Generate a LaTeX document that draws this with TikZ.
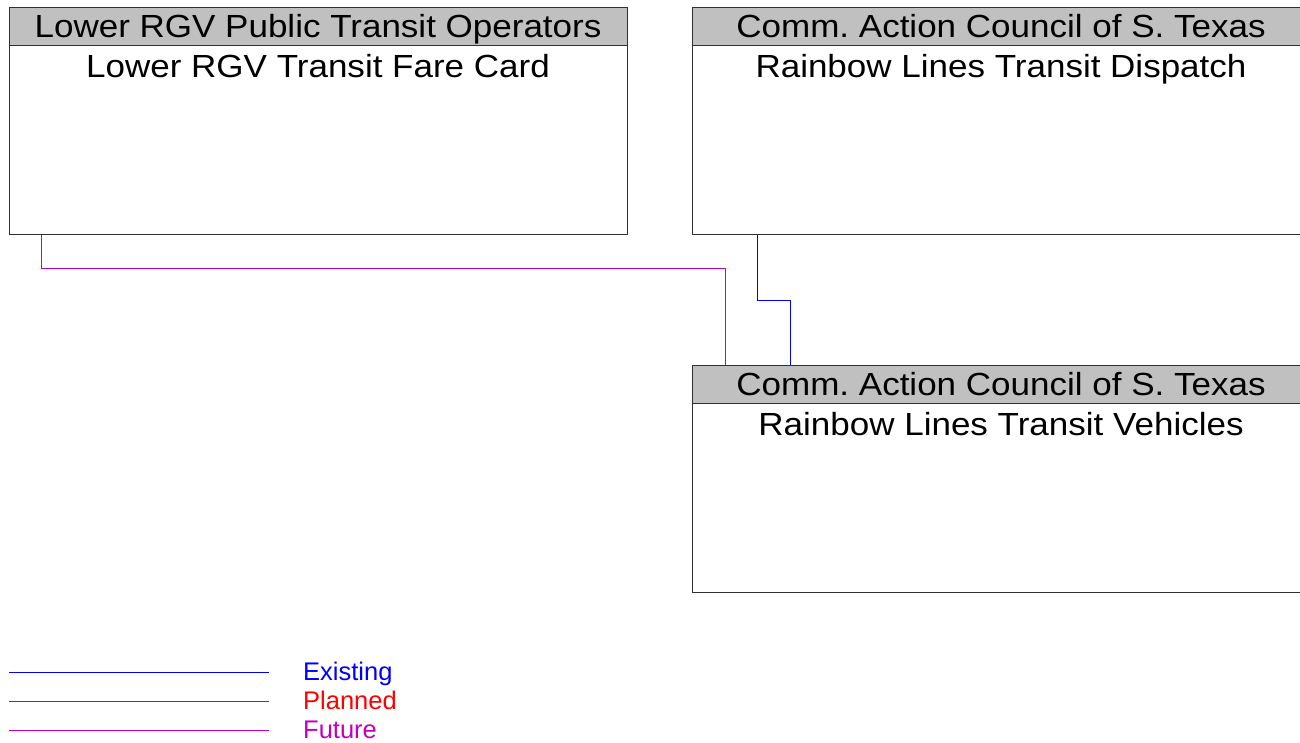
\documentclass[tikz,border=0pt]{standalone}
\usepackage{fontspec}
\setmainfont{Liberation Sans}
\newfontfamily\boxfont[FakeStretch=1.094]{Liberation Sans}
\frenchspacing
\definecolor{hdrgray}{HTML}{C0C0C0}
\definecolor{existc}{HTML}{0000FF}
\definecolor{plannedc}{HTML}{FF0000}
\definecolor{futurec}{HTML}{C000C0}
\definecolor{bordc}{HTML}{303030}
\tikzset{
  elembox/.style={draw=bordc, line width=1pt, fill=white, minimum width=618pt, minimum height=227pt, inner sep=0pt, anchor=north west},
  elemhdr/.style={draw=bordc, line width=1pt, fill=hdrgray, minimum width=618pt, minimum height=38pt, inner sep=0pt, anchor=north west},
  elemtext/.style={anchor=base, inner sep=0pt, font=\boxfont\fontsize{32}{38}\selectfont},
  legtext/.style={anchor=base west, inner sep=0pt, font=\fontsize{25.5}{30}\selectfont},
  existline/.style={draw=existc, line width=1pt},
  planline/.style={draw=plannedc, line width=1pt},
  futline/.style={draw=futurec, line width=1pt},
}
\begin{document}
\begin{tikzpicture}[x=1pt,y=-1pt]
\useasboundingbox (0,0) rectangle (1300,743);
\clip (0,0) rectangle (1300,743);
\fill[white] (0,0) rectangle (1300,743);
% boxes
\node[elembox] (fare) at (9,7) {};
\node[elemhdr] (fareh) at (9,7) {};
\node[elemtext] (farehT) at (318,37.7) {Lower RGV Public Transit Operators};
\node[elemtext] (fareT) at (318,77.3) {Lower RGV Transit Fare Card};

\node[elembox] (disp) at (692,7) {};
\node[elemhdr] (disph) at (692,7) {};
\node[elemtext] (disphT) at (1001,37.7) {Comm. Action Council of S. Texas};
\node[elemtext] (dispT) at (1001,77.3) {Rainbow Lines Transit Dispatch};

\node[elembox] (veh) at (692,365) {};
\node[elemhdr] (vehh) at (692,365) {};
\node[elemtext] (vehhT) at (1001,395.7) {Comm. Action Council of S. Texas};
\node[elemtext] (vehT) at (1001,435.3) {Rainbow Lines Transit Vehicles};

% connectors
\draw[futline] ([xshift=32pt]fare.south west) -- ++(0,33) -| ([xshift=33pt]vehh.north west);
\draw[existline] ([xshift=65pt]disp.south west) -- ++(0,65) -| ([xshift=98pt]vehh.north west);

% legend
\coordinate (l1a) at (9,672); \coordinate (l1b) at (269,672);
\coordinate (l2a) at (9,701); \coordinate (l2b) at (269,701);
\coordinate (l3a) at (9,730); \coordinate (l3b) at (269,730);
\draw[existline] (l1a) -- (l1b);
\draw[planline] (l2a) -- (l2b);
\draw[futline] (l3a) -- (l3b);
\node[legtext, text=existc] (lex) at (303,680.7) {Existing};
\node[legtext, text=plannedc] (lpl) at (303,709.7) {Planned};
\node[legtext, text=futurec] (lfu) at (303,738.7) {Future};
\end{tikzpicture}
\end{document}
